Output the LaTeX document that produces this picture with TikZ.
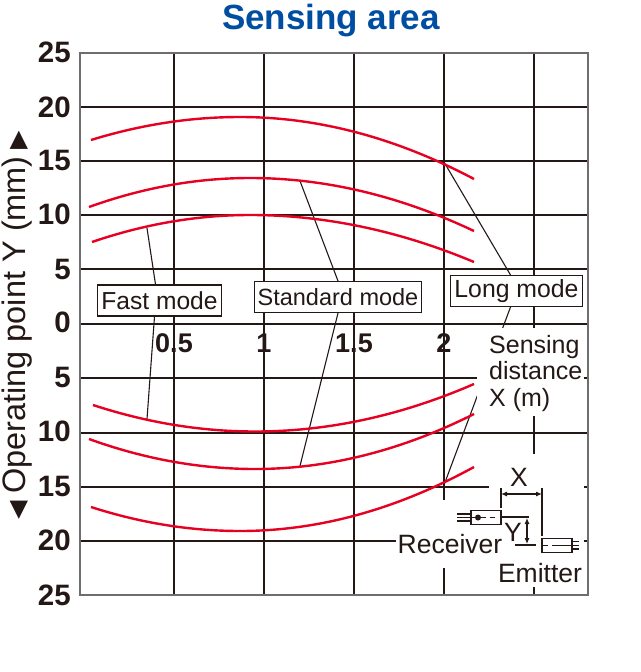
\documentclass[tikz,border=0pt]{standalone}
\usepackage{fontspec}
\setmainfont{Liberation Sans}
\newfontfamily\symfont{DejaVu Sans}
\usetikzlibrary{arrows.meta}
\definecolor{gridcol}{HTML}{231815}
\definecolor{framecol}{HTML}{6E6E6E}
\definecolor{curvecol}{HTML}{E60021}
\definecolor{titlecol}{HTML}{004EA2}
\tikzset{
  gridline/.style = {gridcol, line width=1.5pt},
  curve/.style = {curvecol, line width=2.4pt},
  leader/.style = {gridcol, line width=1.1pt},
  thin part/.style = {gridcol, line width=1.1pt},
  modebox/.style = {draw=gridcol, fill=white, line width=1.1pt, inner sep=0pt, text=gridcol},
  sensorbox/.style = {draw=gridcol, line width=1.1pt, minimum width=30pt, minimum height=13.5pt, inner sep=0pt},
  ylab/.style = {font=\bfseries\fontsize{29.5}{30}\selectfont, text=gridcol, anchor=east, inner sep=0pt},
  xlab/.style = {font=\bfseries\fontsize{27}{27}\selectfont, text=gridcol, inner sep=0pt},
  plain/.style = {font=\fontsize{26.5}{27}\selectfont, text=gridcol, inner sep=0pt}
}
\begin{document}
\begin{tikzpicture}[x=1pt,y=-1pt]
                \useasboundingbox (0,0) rectangle (640,672);
                \node[font=\bfseries\fontsize{35}{35}\selectfont, text=titlecol, inner sep=0pt, anchor=base] (title) at (331,29) {Sensing area};

                \draw[gridline] (80,107) -- (588,107);
                \draw[gridline] (80,161) -- (588,161);
                \draw[gridline] (80,215) -- (588,215);
                \draw[gridline] (80,269) -- (588,269);
                \draw[gridline] (80,324) -- (588,324);
                \draw[gridline] (80,378) -- (588,378);
                \draw[gridline] (80,433) -- (588,433);
                \draw[gridline] (80,487) -- (588,487);
                \draw[gridline] (80,541) -- (588,541);
                \draw[gridline] (174,53) -- (174,595);
                \draw[gridline] (264,53) -- (264,595);
                \draw[gridline] (354,53) -- (354,595);
                \draw[gridline] (444,53) -- (444,595);
                \draw[gridline] (534,53) -- (534,595);

                \coordinate (fastup) at (147,228);
                \coordinate (fastdown) at (147,419);
                \coordinate (stdup) at (300,181);
                \coordinate (stddown) at (300,466);
                \coordinate (longup) at (444,162);
                \coordinate (longdown) at (444,485);

                \node[modebox, minimum width=124pt, minimum height=31pt, font=\fontsize{24.6}{26}\selectfont] (fastbox) at (159.5,300.5) {Fast mode};
                \node[modebox, minimum width=167.5pt, minimum height=31pt, font=\fontsize{23.5}{26}\selectfont] (stdbox) at (338,297) {Standard mode};
                \node[modebox, minimum width=132pt, minimum height=31pt, font=\fontsize{24.8}{28}\selectfont] (longbox) at (516.5,291) {Long mode};

                \draw[leader] (fastup) -- ([xshift=-4pt]fastbox.north);
                \draw[leader] (fastdown) -- ([xshift=-5pt]fastbox.south);
                \draw[leader] (stdup) -- (stdbox.north);
                \draw[leader] (stddown) -- (stdbox.south);
                \draw[leader] (longup) -- ([xshift=-6pt]longbox.north);
                \draw[leader] (longdown) -- ([xshift=-6pt]longbox.south);

                \fill[white] (477,328) rectangle (584,416);
                \fill[white] (489,470) rectangle (584,500);
                \fill[white] (500,454) rectangle (584,587);
                \fill[white] (396,500) rectangle (500,568);

                \draw[framecol, line width=2pt] (80,53) rectangle (588,595);

                \draw[curve] (91,140) .. controls (140.7,124.7) and (190.3,117) .. (240,117) .. controls (318,117) and (396,137.7) .. (474,179);
                \draw[curve] (89,207) .. controls (142.7,187.7) and (196.3,178) .. (250,178) .. controls (324.7,178) and (399.3,195.7) .. (474,231);
                \draw[curve] (92,242) .. controls (144.7,224) and (197.3,215) .. (250,215) .. controls (324.7,215) and (399.3,230.7) .. (474,262);
                \draw[curve] (93,405) .. controls (147,422.7) and (201,431.5) .. (255,431.5) .. controls (328,431.5) and (401,415.7) .. (474,384);
                \draw[curve] (89,439) .. controls (144.3,459) and (199.7,469) .. (255,469) .. controls (328,469) and (401,450.7) .. (474,414);
                \draw[curve] (91,507) .. controls (140.7,523) and (190.3,531) .. (240,531) .. controls (318,531) and (396,509.7) .. (474,467);

                \node[ylab] (y25a) at (71,52) {25};
                \node[ylab] (y20a) at (71,107) {20};
                \node[ylab] (y15a) at (71,160) {15};
                \node[ylab] (y10a) at (71,214) {10};
                \node[ylab] (y5a) at (71,269) {5};
                \node[ylab] (y0) at (71,322) {0};
                \node[ylab] (y5b) at (71,377) {5};
                \node[ylab] (y10b) at (71,431) {10};
                \node[ylab] (y15b) at (71,486) {15};
                \node[ylab] (y20b) at (71,540) {20};
                \node[ylab] (y25b) at (71,595) {25};

                \node[xlab] (x05) at (174,343) {0.5};
                \node[xlab] (x1) at (264,343) {1};
                \node[xlab] (x15) at (354,343) {1.5};
                \node[xlab] (x2) at (444,343) {2};

                \node[rotate=90, font=\fontsize{32.5}{33}\selectfont, text=gridcol, inner sep=0pt] (ylabel) at (17,325) {{\symfont\fontsize{24}{24}\selectfont ◀}\hspace{7pt}Operating point Y (mm)\hspace{7pt}{\symfont\fontsize{24}{24}\selectfont ▶}};

                \node[plain, font=\fontsize{25}{26.5}\selectfont, align=left, anchor=north west] (sensing) at (489,335) {Sensing\\distance\\X (m)};

                \node[plain] (xmark) at (519,477) {X};
                \node[plain] (ymark) at (513,532) {Y};
                \node[plain] (receiver) at (450,544) {Receiver};
                \node[plain] (emitter) at (540,573) {Emitter};

                \node[sensorbox] (recbox) at (486,517.5) {};
                \node[sensorbox] (emibox) at (557,545.5) {};
                \fill[gridcol] (478,517.5) circle (3pt);

                \coordinate (xleft) at (501,494);
                \coordinate (xright) at (542,494);
                \coordinate (ytop) at (527,518);
                \coordinate (ybottom) at (527,544);
                \draw[thin part] (501,488) -- (501,508);
                \draw[thin part] (542,488) -- (542,536);
                \draw[thin part] (501,517) -- (529,517);
                \draw[thin part] (515,545) -- (536,545);
                \draw[thin part, {Latex[length=6pt,width=5pt]}-{Latex[length=6pt,width=5pt]}] (xleft) -- (xright);
                \draw[thin part, {Latex[length=6pt,width=5pt]}-{Latex[length=6pt,width=5pt]}] (ytop) -- (ybottom);
                \draw[thin part] (457,514) -- (471,514);
                \draw[thin part] (457,517.5) -- (471,517.5);
                \draw[thin part] (457,521) -- (471,521);
                \draw[thin part] (472,517.5) -- (486,517.5);
                \draw[thin part] (490,517.5) -- (495,517.5);
                \draw[thin part] (572,541.5) -- (579,541.5);
                \draw[thin part] (572,545.5) -- (579,545.5);
                \draw[thin part] (572,549) -- (579,549);
                \draw[thin part] (542,545.5) -- (548,545.5);
                \draw[thin part] (552,545.5) -- (572,545.5);
            \end{tikzpicture}
\end{document}
